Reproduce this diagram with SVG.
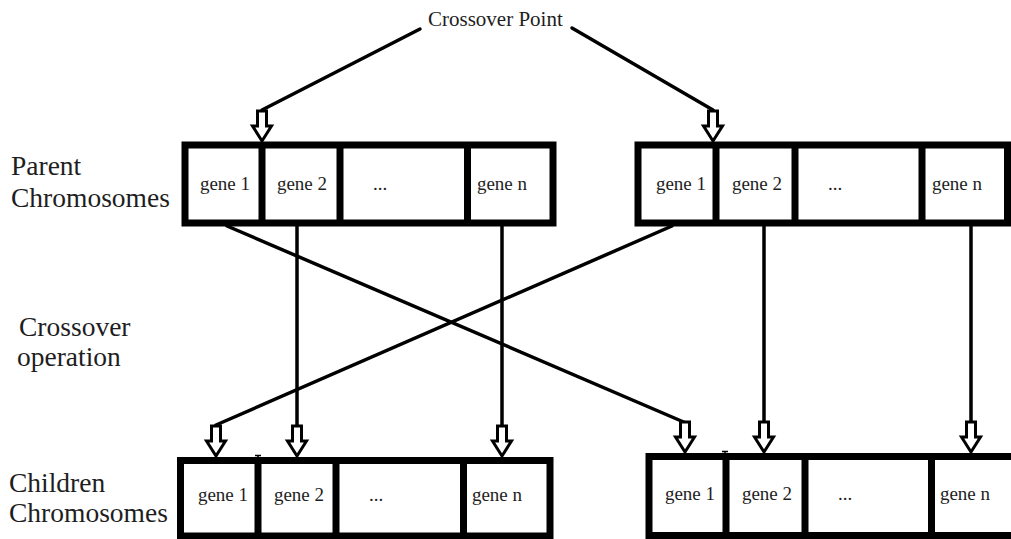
<svg xmlns="http://www.w3.org/2000/svg" width="1011" height="539" viewBox="0 0 1011 539">
<style>
.box{fill:#fff;stroke:#000;stroke-width:7}
.div{stroke:#000;stroke-width:7}
text{font-family:'Liberation Serif','Times New Roman','DejaVu Serif',serif;fill:#1e1e1e}
.gene{font-size:19px;text-anchor:middle}
.lbl{font-size:27.5px}
.top{font-size:21px}
.con{stroke:#000;stroke-width:3.5;fill:none;stroke-linecap:round;stroke-linejoin:round}
.arr{fill:#fff;stroke:#000;stroke-width:3;stroke-linejoin:miter}
</style>
<defs>
<path id="ar" class="arr" d="M-4.5,-31 L4.5,-31 L4.5,-16 L9.5,-16 L0,-1 L-9.5,-16 L-4.5,-16 Z"/>
</defs>
<rect width="1011" height="539" fill="#fff"/>

<text class="top" x="428" y="26">Crossover Point</text>
<text class="lbl" x="11" y="175">Parent</text>
<text class="lbl" x="11" y="207">Chromosomes</text>
<text class="lbl" x="19" y="336">Crossover</text>
<text class="lbl" x="17" y="366">operation</text>
<text class="lbl" x="9" y="492">Children</text>
<text class="lbl" x="9" y="522">Chromosomes</text>

<g id="parent1">
<rect class="box" x="185" y="145" width="368" height="78"/>
<line class="div" x1="262" y1="145" x2="262" y2="223"/>
<line class="div" x1="340" y1="145" x2="340" y2="223"/>
<line class="div" x1="467.5" y1="145" x2="467.5" y2="223"/>
<text class="gene" x="225" y="190">gene 1</text>
<text class="gene" x="302" y="190">gene 2</text>
<text class="gene" x="380" y="190">...</text>
<text class="gene" x="502" y="190">gene n</text>
</g>

<g id="parent2">
<rect class="box" x="638" y="145" width="369.5" height="78"/>
<line class="div" x1="716" y1="145" x2="716" y2="223"/>
<line class="div" x1="795" y1="145" x2="795" y2="223"/>
<line class="div" x1="922" y1="145" x2="922" y2="223"/>
<text class="gene" x="681" y="190">gene 1</text>
<text class="gene" x="757" y="190">gene 2</text>
<text class="gene" x="835" y="190">...</text>
<text class="gene" x="957" y="190">gene n</text>
</g>

<g id="child1">
<rect class="box" x="180.5" y="460.5" width="369.5" height="75.5"/>
<line class="div" x1="258" y1="460.5" x2="258" y2="536"/>
<line class="div" x1="336" y1="460.5" x2="336" y2="536"/>
<line class="div" x1="463.5" y1="460.5" x2="463.5" y2="536"/>
<path d="M255,455.5 H261 M258,455.5 V458" stroke="#000" stroke-width="1.5"/>
<text class="gene" x="223" y="501">gene 1</text>
<text class="gene" x="299" y="501">gene 2</text>
<text class="gene" x="376" y="501">...</text>
<text class="gene" x="497" y="501">gene n</text>
</g>

<g id="child2">
<rect class="box" x="649" y="456.5" width="370" height="79"/>
<line class="div" x1="726" y1="456.5" x2="726" y2="535.5"/>
<line class="div" x1="805" y1="456.5" x2="805" y2="535.5"/>
<line class="div" x1="931.5" y1="456.5" x2="931.5" y2="535.5"/>
<path d="M722,451.5 H728 M725,451.5 V454" stroke="#000" stroke-width="1.5"/>
<text class="gene" x="690" y="500">gene 1</text>
<text class="gene" x="767" y="500">gene 2</text>
<text class="gene" x="845" y="500">...</text>
<text class="gene" x="965" y="500">gene n</text>
</g>

<g id="connectors">
<path class="con" d="M420,29 L262,110"/>
<path class="con" d="M572,28 L713,110"/>
<path class="con" d="M227,226 L686,423"/>
<path class="con" d="M672,226 L216,425"/>
<path class="con" d="M297,226 L297,427"/>
<path class="con" d="M502,226 L502,427"/>
<path class="con" d="M764,226 L764,423"/>
<path class="con" d="M971,226 L971,423"/>
<use href="#ar" transform="translate(262,142)"/>
<use href="#ar" transform="translate(713,142)"/>
<use href="#ar" transform="translate(216,457)"/>
<use href="#ar" transform="translate(297,457)"/>
<use href="#ar" transform="translate(502,457)"/>
<use href="#ar" transform="translate(685,453)"/>
<use href="#ar" transform="translate(764,453)"/>
<use href="#ar" transform="translate(971,453)"/>
</g>
</svg>
